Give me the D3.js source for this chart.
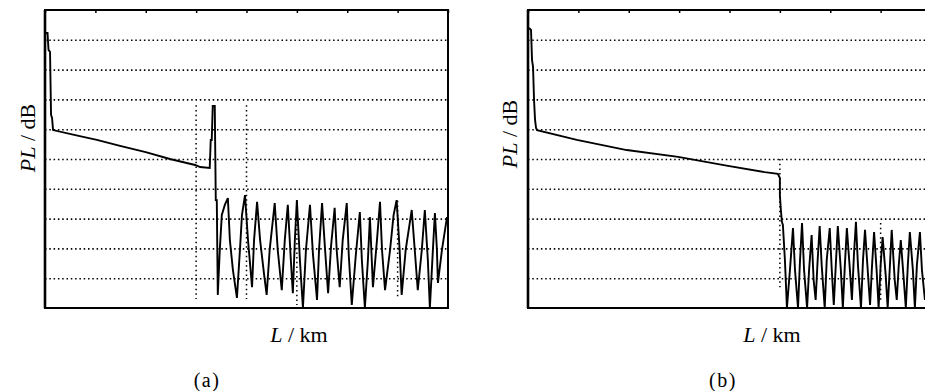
<!DOCTYPE html>
<html><head><meta charset="utf-8">
<script src="https://cdn.jsdelivr.net/npm/d3@7"></script>
<style>body{margin:0;background:#fff}svg{display:block}</style>
</head><body>
<svg id="c" width="925" height="391"></svg>
<script>
// x in km divisions (0..8), y in dB divisions (0..10)
const xTicks = [0,1,2,3,4,5,6,7,8];
const yGrid = [1,2,3,4,5,6,7,8,9];

// Panel (a) trace
const aX = [0.01,0.05,0.07,0.10,0.12,0.14,0.16,0.69,1.03,1.49,2.00,2.48,2.98,3.08,3.27,3.29,3.31,3.33,3.37,3.39,3.41,3.43];
const aY = [9.23,9.23,8.66,8.59,6.48,6.38,5.97,5.77,5.64,5.44,5.23,5.00,4.80,4.73,4.70,5.64,5.64,6.78,6.78,3.62,3.62,0.44];
// Panel (a) noise after the event
const aNX = [3.43,3.47,3.51,3.57,3.63,3.67,3.73,3.81,3.87,3.91,3.97,4.03,4.11,4.15,4.21,4.27,4.35,4.40,4.46,4.56,4.62,4.70,4.76,4.82,4.88,4.92,4.96,5.00,5.06,5.12,5.18,5.26,5.32,5.40,5.44,5.50,5.56,5.62,5.68,5.75,5.79,5.85,5.91,5.99,6.03,6.09,6.17,6.25,6.29,6.35,6.41,6.45,6.51,6.59,6.65,6.69,6.75,6.85,6.92,6.98,7.04,7.08,7.16,7.28,7.34,7.40,7.48,7.54,7.60,7.64,7.70,7.74,7.78,7.80,7.88,7.98];
const aNY = [0.44,1.95,3.12,3.46,3.69,2.28,1.28,0.34,1.95,3.12,3.79,2.28,0.70,2.28,3.56,2.28,1.11,0.44,1.95,3.52,1.95,0.60,2.28,3.46,1.61,0.50,2.28,3.62,1.61,0.00,1.95,3.46,1.78,0.27,1.95,3.52,1.95,0.50,2.11,3.36,1.95,0.70,2.28,3.52,1.78,0.10,1.78,3.22,1.61,0.00,1.61,3.05,0.70,2.28,3.56,1.95,0.60,1.95,3.12,3.62,1.95,0.44,1.95,3.29,1.95,0.60,1.95,3.29,1.61,0.00,1.95,3.19,1.95,0.84,1.95,3.05];

// Panel (b) trace
const bX = [0.02,0.06,0.08,0.10,0.12,0.14,0.16,0.18,0.97,1.96,2.98,3.97,4.70,4.96,5.00,5.00,5.02,5.04,5.06];
const bY = [9.40,9.33,8.32,8.09,6.98,6.31,6.04,5.97,5.64,5.30,5.07,4.77,4.56,4.50,4.36,3.79,3.29,2.89,2.79];
// Panel (b) noise
const bNX = [5.06,5.10,5.14,5.20,5.26,5.30,5.36,5.40,5.44,5.48,5.54,5.58,5.63,5.67,5.71,5.75,5.79,5.83,5.89,5.93,5.99,6.03,6.07,6.11,6.15,6.21,6.25,6.29,6.33,6.39,6.43,6.47,6.51,6.55,6.61,6.65,6.69,6.75,6.79,6.83,6.87,6.92,6.96,7.00,7.04,7.10,7.14,7.18,7.22,7.28,7.32,7.36,7.40,7.46,7.50,7.54,7.58,7.64,7.68,7.72,7.78,7.82,7.88];
const bNY = [2.79,1.61,0.00,1.28,2.68,1.28,0.00,1.61,2.85,1.28,0.00,1.28,2.45,0.94,0.27,1.61,2.75,1.44,0.00,1.61,2.68,1.28,0.10,1.44,2.75,1.28,0.00,1.44,2.68,1.28,0.27,1.78,2.89,1.44,0.00,1.61,2.62,1.11,0.10,1.44,2.55,1.28,0.00,1.44,2.38,1.11,0.00,1.28,2.62,0.94,0.27,1.44,2.28,0.94,0.00,1.44,2.55,1.28,0.00,1.44,2.55,1.28,0.27];

// cursor markers [x, yTop, yBottom]
const aMarkX = [3,4,5,7];
const aMarkTop = [6.8,6.8,3.6,3.6];
const aMarkBot = [0.3,0.3,0.1,0.35];
const bMarkX = [5,7];
const bMarkTop = [5.0,2.85];
const bMarkBot = [0.7,0.17];

const svg = d3.select("#c");
svg.append("rect").attr("width",925).attr("height",391).attr("fill","#fff");

const y = d3.scaleLinear().domain([0,10]).range([308,10]);

function panel(left, tx, ty, nx, ny, mx, mt, mb, labels) {
  const x = d3.scaleLinear().domain([0,8]).range([left, left+403]);
  const g = svg.append("g");
  // horizontal dotted grid
  const ga = g.append("g").attr("transform",`translate(${left},0)`)
    .call(d3.axisLeft(y).tickValues(yGrid).tickSize(-403).tickFormat(""));
  ga.select(".domain").remove();
  ga.selectAll("line").attr("stroke","#000").attr("stroke-width",1.6).attr("stroke-dasharray","1.5,2.8");
  // marker verticals
  mx.forEach((v,i)=>{
    g.append("line").attr("x1",x(v)).attr("x2",x(v)).attr("y1",y(mt[i])).attr("y2",y(mb[i]))
     .attr("stroke","#000").attr("stroke-width",1.5).attr("stroke-dasharray","1.5,3.2");
  });
  // top ticks
  const gt = g.append("g").attr("transform",`translate(0,10)`)
    .call(d3.axisTop(x).tickValues(xTicks).tickSize(-3).tickFormat(""));
  gt.select(".domain").remove();
  gt.selectAll("line").attr("stroke","#000").attr("stroke-width",1.5);
  // frame
  g.append("rect").attr("x",left).attr("y",10).attr("width",403).attr("height",298)
   .attr("fill","none").attr("stroke","#000").attr("stroke-width",2);
  g.append("line").attr("x1",left).attr("x2",left).attr("y1",10).attr("y2",308)
   .attr("stroke","#000").attr("stroke-width",2.6);
  // trace
  const line = d3.line().x(d=>x(d[0])).y(d=>y(d[1]));
  const pts = tx.map((v,i)=>[v,ty[i]]).concat(nx.map((v,i)=>[v,ny[i]]));
  g.append("path").attr("d",line(pts)).attr("fill","none").attr("stroke","#000")
   .attr("stroke-width",1.9).attr("stroke-linejoin","miter").attr("stroke-miterlimit",3);
  // labels
  const ylab = g.append("text").attr("transform",`translate(${labels.yx},${labels.yy}) rotate(-90)`)
    .attr("text-anchor","middle").attr("font-family","'Liberation Serif', 'DejaVu Serif', serif")
    .attr("font-size",22).attr("fill","#000");
  ylab.append("tspan").attr("font-style","italic").text("PL");
  ylab.append("tspan").text(" / dB");
  const xlab = g.append("text").attr("x",labels.xx).attr("y",342)
    .attr("text-anchor","middle").attr("font-family","'Liberation Serif', 'DejaVu Serif', serif")
    .attr("font-size",22).attr("fill","#000");
  xlab.append("tspan").attr("font-style","italic").text("L");
  xlab.append("tspan").text(" / km");
  g.append("text").attr("x",labels.px).attr("y",387).attr("text-anchor","middle")
    .attr("font-family","'Liberation Serif', serif").attr("font-size",20)
    .attr("letter-spacing",1.5).attr("fill","#000").text(labels.p);
}

panel(45, aX, aY, aNX, aNY, aMarkX, aMarkTop, aMarkBot, {yx:35, yy:138, xx:299, px:207, p:"(a)"});
panel(528, bX, bY, bNX, bNY, bMarkX, bMarkTop, bMarkBot, {yx:517, yy:134, xx:772, px:723, p:"(b)"});
</script>
</body></html>
